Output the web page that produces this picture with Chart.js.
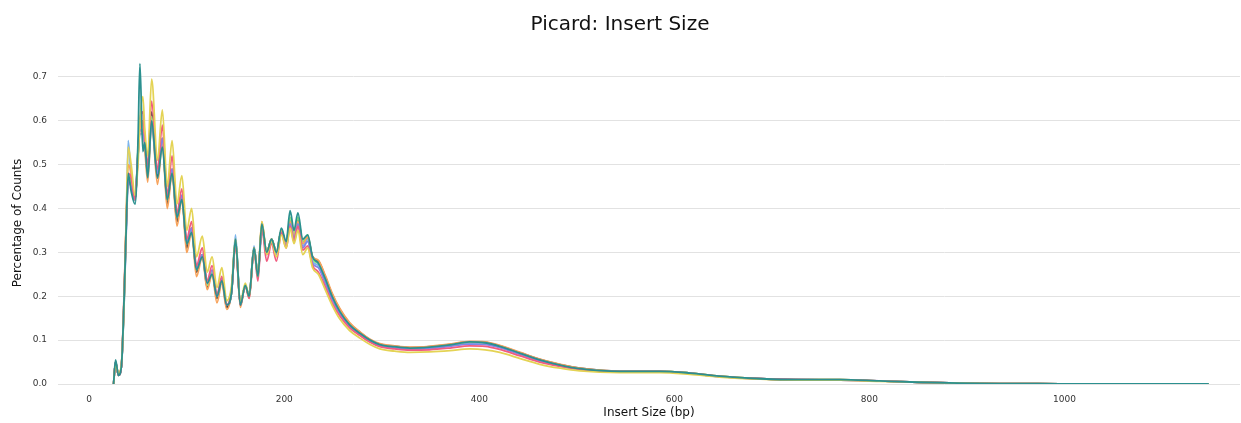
<!DOCTYPE html>
<html>
<head>
<meta charset="utf-8">
<title>Picard: Insert Size</title>
<script src="https://cdn.jsdelivr.net/npm/chart.js@4/dist/chart.umd.min.js"></script>
<style>
  html, body { margin: 0; padding: 0; background: #fff; }
  #wrap { width: 1241px; height: 423px; position: relative; }
</style>
</head>
<body>
<div id="wrap"><canvas id="insertSizeChart"></canvas></div>
<script>
// insert size (bp) shared by every sample
const insertSizes = [25, 27, 30, 33, 36, 38, 40, 43, 47, 50,
    52, 55, 57, 60, 64, 70, 75, 80, 85, 90,
    95, 100, 105, 110, 116, 121, 126, 131, 136, 141,
    146, 150, 155, 160, 164, 169, 173, 177, 182, 187,
    192, 197, 202, 206, 210, 214, 219, 224, 229, 235,
    242, 249, 257, 267, 278, 288, 298, 313, 329, 349,
    370, 390, 406, 421, 442, 462, 483, 503, 544, 585,
    616, 646, 688, 728, 770, 810, 851, 892, 933, 995,
    1087, 1148];

const xTickValues = [0, 200, 400, 600, 800, 1000];
const yTickValues = [0, 0.1, 0.2, 0.3, 0.4, 0.5, 0.6, 0.7];

// percentage of counts per sample
const sample1 = [0, 0.05, 0.02, 0.04, 0.2, 0.36, 0.555, 0.47, 0.42, 0.52,
    0.57, 0.57, 0.54, 0.48, 0.59, 0.47, 0.55, 0.42, 0.48, 0.38,
    0.425, 0.32, 0.35, 0.26, 0.29, 0.225, 0.255, 0.2, 0.235, 0.18,
    0.21, 0.34, 0.18, 0.225, 0.2, 0.315, 0.25, 0.36, 0.3, 0.33,
    0.3, 0.35, 0.32, 0.37, 0.33, 0.37, 0.315, 0.33, 0.28, 0.27,
    0.235, 0.197, 0.163, 0.133, 0.113, 0.099, 0.089, 0.084, 0.081, 0.083,
    0.088, 0.093, 0.092, 0.085, 0.069, 0.054, 0.042, 0.034, 0.028, 0.028,
    0.024, 0.017, 0.012, 0.01, 0.009, 0.007, 0.004, 0.002, 0.001, 0.0005,
    0, 0];
const sample2 = [0, 0.05, 0.02, 0.04, 0.21, 0.37, 0.47, 0.46, 0.42, 0.53,
    0.6, 0.6, 0.55, 0.48, 0.62, 0.47, 0.56, 0.41, 0.49, 0.37,
    0.43, 0.31, 0.355, 0.255, 0.295, 0.22, 0.255, 0.195, 0.235, 0.175,
    0.21, 0.325, 0.18, 0.225, 0.2, 0.31, 0.25, 0.36, 0.3, 0.33,
    0.3, 0.35, 0.32, 0.375, 0.335, 0.375, 0.325, 0.335, 0.29, 0.28,
    0.245, 0.205, 0.17, 0.138, 0.117, 0.101, 0.091, 0.086, 0.083, 0.085,
    0.09, 0.096, 0.095, 0.087, 0.071, 0.056, 0.044, 0.036, 0.029, 0.029,
    0.025, 0.018, 0.012, 0.01, 0.01, 0.007, 0.004, 0.002, 0.001, 0.0005,
    0, 0];
const sample3 = [0, 0.05, 0.02, 0.04, 0.21, 0.36, 0.47, 0.46, 0.42, 0.53,
    0.58, 0.58, 0.55, 0.48, 0.61, 0.48, 0.56, 0.42, 0.49, 0.38,
    0.43, 0.32, 0.355, 0.26, 0.295, 0.225, 0.255, 0.2, 0.24, 0.18,
    0.21, 0.33, 0.18, 0.225, 0.2, 0.31, 0.25, 0.36, 0.3, 0.33,
    0.3, 0.35, 0.32, 0.38, 0.34, 0.38, 0.325, 0.34, 0.285, 0.275,
    0.24, 0.2, 0.166, 0.135, 0.115, 0.1, 0.09, 0.085, 0.082, 0.084,
    0.089, 0.095, 0.094, 0.086, 0.07, 0.055, 0.043, 0.035, 0.029, 0.029,
    0.025, 0.018, 0.012, 0.01, 0.01, 0.007, 0.004, 0.002, 0.001, 0.0005,
    0, 0];
const sample4 = [0, 0.05, 0.02, 0.04, 0.22, 0.38, 0.5, 0.48, 0.42, 0.52,
    0.58, 0.6, 0.54, 0.46, 0.6, 0.455, 0.55, 0.4, 0.48, 0.36,
    0.42, 0.3, 0.345, 0.245, 0.29, 0.215, 0.25, 0.185, 0.23, 0.17,
    0.21, 0.32, 0.175, 0.225, 0.195, 0.31, 0.25, 0.37, 0.3, 0.33,
    0.3, 0.35, 0.32, 0.37, 0.335, 0.37, 0.32, 0.335, 0.29, 0.282,
    0.248, 0.208, 0.172, 0.14, 0.118, 0.102, 0.092, 0.087, 0.084, 0.086,
    0.091, 0.097, 0.096, 0.088, 0.072, 0.057, 0.045, 0.036, 0.029, 0.029,
    0.025, 0.018, 0.012, 0.01, 0.01, 0.007, 0.004, 0.002, 0.001, 0.0005,
    0, 0];
const sample5 = [0, 0.05, 0.02, 0.04, 0.2, 0.35, 0.46, 0.45, 0.42, 0.52,
    0.58, 0.57, 0.55, 0.49, 0.6, 0.48, 0.56, 0.43, 0.49, 0.385,
    0.43, 0.325, 0.355, 0.265, 0.295, 0.23, 0.26, 0.2, 0.24, 0.18,
    0.21, 0.33, 0.18, 0.225, 0.2, 0.31, 0.245, 0.355, 0.295, 0.325,
    0.295, 0.345, 0.315, 0.365, 0.33, 0.365, 0.31, 0.325, 0.275, 0.265,
    0.23, 0.193, 0.16, 0.131, 0.111, 0.097, 0.087, 0.082, 0.079, 0.081,
    0.086, 0.091, 0.09, 0.083, 0.067, 0.053, 0.041, 0.034, 0.028, 0.028,
    0.024, 0.017, 0.012, 0.01, 0.009, 0.007, 0.004, 0.002, 0.001, 0.0005,
    0, 0];
const sample6 = [0, 0.05, 0.02, 0.04, 0.22, 0.37, 0.48, 0.47, 0.42, 0.52,
    0.6, 0.62, 0.56, 0.5, 0.645, 0.49, 0.59, 0.43, 0.52, 0.39,
    0.445, 0.33, 0.37, 0.27, 0.31, 0.235, 0.27, 0.205, 0.245, 0.18,
    0.215, 0.32, 0.18, 0.225, 0.195, 0.305, 0.235, 0.355, 0.28, 0.32,
    0.28, 0.345, 0.31, 0.36, 0.325, 0.36, 0.305, 0.315, 0.27, 0.255,
    0.222, 0.185, 0.155, 0.128, 0.11, 0.095, 0.085, 0.08, 0.077, 0.078,
    0.082, 0.087, 0.086, 0.079, 0.064, 0.05, 0.04, 0.033, 0.028, 0.028,
    0.024, 0.017, 0.012, 0.01, 0.009, 0.007, 0.004, 0.002, 0.001, 0.0005,
    0, 0];
const sample7 = [0, 0.045, 0.025, 0.045, 0.2, 0.38, 0.54, 0.5, 0.43, 0.5,
    0.6, 0.655, 0.58, 0.52, 0.695, 0.51, 0.625, 0.45, 0.555, 0.41,
    0.475, 0.35, 0.4, 0.29, 0.337, 0.255, 0.29, 0.22, 0.265, 0.19,
    0.225, 0.33, 0.185, 0.23, 0.2, 0.31, 0.245, 0.37, 0.295, 0.325,
    0.29, 0.34, 0.31, 0.355, 0.32, 0.35, 0.295, 0.31, 0.265, 0.25,
    0.215, 0.18, 0.148, 0.122, 0.104, 0.09, 0.08, 0.075, 0.072, 0.073,
    0.076, 0.08, 0.078, 0.072, 0.058, 0.045, 0.036, 0.03, 0.026, 0.026,
    0.022, 0.016, 0.011, 0.009, 0.009, 0.006, 0.004, 0.002, 0.001, 0.0005,
    0, 0];
const sample8 = [0, 0.055, 0.02, 0.04, 0.21, 0.36, 0.48, 0.44, 0.41, 0.55,
    0.73, 0.53, 0.55, 0.47, 0.6, 0.47, 0.54, 0.42, 0.48, 0.38,
    0.42, 0.32, 0.345, 0.26, 0.29, 0.23, 0.25, 0.2, 0.235, 0.18,
    0.21, 0.33, 0.18, 0.225, 0.2, 0.31, 0.245, 0.365, 0.3, 0.33,
    0.3, 0.355, 0.325, 0.395, 0.35, 0.39, 0.33, 0.34, 0.29, 0.275,
    0.24, 0.2, 0.165, 0.135, 0.115, 0.1, 0.09, 0.085, 0.082, 0.084,
    0.089, 0.096, 0.094, 0.086, 0.07, 0.055, 0.043, 0.035, 0.029, 0.029,
    0.025, 0.018, 0.012, 0.01, 0.01, 0.007, 0.004, 0.002, 0.001, 0.0005,
    0, 0];

const sampleNames = ['Sample 1', 'Sample 2', 'Sample 3', 'Sample 4',
    'Sample 5', 'Sample 6', 'Sample 7', 'Sample 8'];
const sampleValues = [sample1, sample2, sample3, sample4, sample5, sample6, sample7, sample8];
const sampleColors = ['#7cb5ec', '#434348', '#90ed7d', '#f7a35c',
    '#8085e9', '#f15c80', '#e4d354', '#2b908f'];

const fontFamily = '"DejaVu Sans", Verdana, sans-serif';

// later samples sit on top
const datasets = sampleValues.map((vals, i) => ({
    label: sampleNames[i],
    data: vals.map((v, j) => ({ x: insertSizes[j], y: v })),
    borderColor: sampleColors[i],
    backgroundColor: sampleColors[i],
    borderWidth: 1.8,
    pointRadius: 0,
    cubicInterpolationMode: 'monotone',
    fill: false,
    order: sampleValues.length - i
}));

const ctx = document.getElementById('insertSizeChart').getContext('2d');
const insertSizeChart = new Chart(ctx, {
    type: 'line',
    data: { datasets: datasets },
    options: {
        responsive: true,
        maintainAspectRatio: false,
        animation: false,
        layout: { padding: { left: 0, right: 1, top: 0, bottom: 0 } },
        plugins: {
            legend: { display: false },
            tooltip: { enabled: false },
            title: {
                display: true,
                text: 'Picard: Insert Size',
                color: '#111',
                font: { family: fontFamily, size: 20, weight: 'normal' },
                padding: { top: 13, bottom: 25 }
            }
        },
        scales: {
            x: {
                type: 'linear',
                min: -32,
                max: 1180,
                border: { display: false },
                grid: { display: false, drawTicks: false },
                afterBuildTicks: (scale) => {
                    scale.ticks = xTickValues.map(v => ({ value: v }));
                },
                ticks: {
                    padding: 10,
                    color: '#333',
                    maxRotation: 0,
                    autoSkip: false,
                    font: { family: fontFamily, size: 9 },
                    callback: (v) => String(v)
                },
                title: {
                    display: true,
                    text: 'Insert Size (bp)',
                    color: '#111',
                    font: { family: fontFamily, size: 12 },
                    padding: { top: 0, bottom: 3 }
                },
                afterFit: (scale) => { scale.height = 39; }
            },
            y: {
                min: 0,
                max: 0.734,
                border: { display: false },
                grid: { color: '#e2e2e2', lineWidth: 1, drawTicks: false },
                afterBuildTicks: (scale) => {
                    scale.ticks = yTickValues.map(v => ({ value: v }));
                },
                ticks: {
                    padding: 11,
                    color: '#333',
                    font: { family: fontFamily, size: 9 },
                    callback: (v) => v.toFixed(1)
                },
                title: {
                    display: true,
                    text: 'Percentage of Counts',
                    color: '#111',
                    font: { family: fontFamily, size: 12 },
                    padding: { top: 11, bottom: 0 }
                },
                afterFit: (scale) => { scale.width = 58; }
            }
        }
    }
});
</script>
</body>
</html>
